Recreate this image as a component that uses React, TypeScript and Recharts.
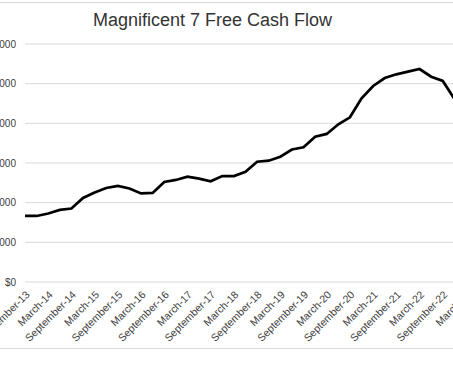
import React from "react";
import { LineChart, Line, XAxis, YAxis, CartesianGrid } from "recharts";

// quarterly, trailing free cash flow ($ millions)
const quarters = [
  "September-13", "December-13",
  "March-14", "June-14", "September-14", "December-14",
  "March-15", "June-15", "September-15", "December-15",
  "March-16", "June-16", "September-16", "December-16",
  "March-17", "June-17", "September-17", "December-17",
  "March-18", "June-18", "September-18", "December-18",
  "March-19", "June-19", "September-19", "December-19",
  "March-20", "June-20", "September-20", "December-20",
  "March-21", "June-21", "September-21", "December-21",
  "March-22", "June-22", "September-22", "December-22",
  "March-23",
];

const freeCashFlow = [
  83200, 83200, 86300, 90800, 92600, 105900, 112800, 118500, 121000, 117900,
  111600, 112200, 126100, 128600, 132700, 130200, 126900, 133600, 133600, 139000,
  151600, 152900, 157900, 167000, 169800, 183200, 186600, 198800, 207600, 231600,
  247100, 257100, 261800, 265100, 268500, 258800, 253400, 230700, 228000,
];

const yTicks = [0, 50000, 100000, 150000, 200000, 250000, 300000];

const title = "Magnificent 7 Free Cash Flow";

const FONT = '"Liberation Sans", Arial, sans-serif';
const TEXT = "#404040";

export default function App() {
  const data = quarters.map((q, i) => ({ quarter: q, fcf: freeCashFlow[i] }));

  return (
    <div
      style={{
        position: "fixed",
        left: 0,
        top: 0,
        width: 453,
        height: 378,
        overflow: "hidden",
        background: "#fff",
        fontFamily: FONT,
      }}
    >
      {/* chart area border, cropped at the sides */}
      <div
        style={{
          position: "absolute",
          left: -35,
          top: 2,
          width: 501,
          height: 347,
          border: "1px solid #d9d9d9",
          boxSizing: "border-box",
        }}
      />
      <div
        style={{
          position: "absolute",
          left: 0,
          top: 10,
          width: 425,
          textAlign: "center",
          fontSize: 18,
          color: "#333",
        }}
      >
        {title}
      </div>
      <div style={{ position: "absolute", left: -35, top: 2 }}>
        <LineChart
          width={501}
          height={347}
          data={data}
          margin={{ top: 42, right: 0, bottom: 7, left: 0 }}
        >
          <CartesianGrid vertical={false} stroke="#d9d9d9" />
          <XAxis
            dataKey="quarter"
            interval={1}
            axisLine={false}
            tickLine={false}
            height={60}
            angle={-45}
            textAnchor="end"
            tick={{ fontSize: 10.5, fill: TEXT, fontFamily: FONT }}
          />
          <YAxis
            width={60}
            domain={[0, 300000]}
            ticks={yTicks}
            axisLine={false}
            tickLine={false}
            tickMargin={3}
            tickFormatter={(v: number) => "$" + v.toLocaleString("en-US")}
            tick={{ fontSize: 10, fill: TEXT, fontFamily: FONT }}
          />
          <Line
            type="linear"
            dataKey="fcf"
            stroke="#000"
            strokeWidth={2.75}
            dot={false}
            isAnimationActive={false}
          />
        </LineChart>
      </div>
    </div>
  );
}
